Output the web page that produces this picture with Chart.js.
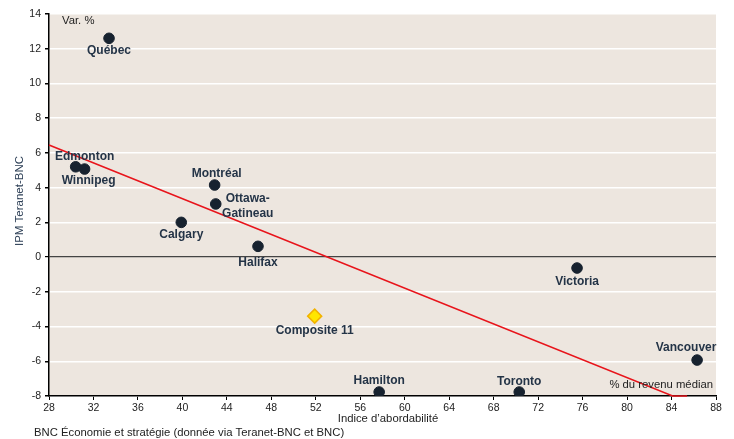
<!DOCTYPE html>
<html>
<head>
<meta charset="utf-8">
<script src="https://cdn.jsdelivr.net/npm/chart.js@4"></script>
<style>
  body { margin: 0; background: #fff; }
  #wrap { width: 734px; height: 439px; }
</style>
</head>
<body>
<div id="wrap"><canvas id="chart"></canvas></div>
<script>
// values
const cities = ['Québec', 'Edmonton', 'Winnipeg', 'Montréal', 'Ottawa-\nGatineau', 'Calgary', 'Halifax', 'Hamilton', 'Toronto', 'Victoria', 'Vancouver'];
const affordability = [33.4, 30.4, 31.2, 42.9, 43.0, 39.9, 46.8, 57.7, 70.3, 75.5, 86.3];
const ipmChange = [12.6, 5.2, 5.07, 4.15, 3.06, 2.0, 0.62, -7.77, -7.77, -0.63, -5.93];

const compositeLabel = ['Composite 11'];
const compositeX = [51.9];
const compositeY = [-3.4];

const trendX = [28, 84.1, 85.4];
const trendY = [6.45, -8, -8];

// where each label sits relative to its dot [dx, dy]
const labelOffsets = [[0, 12], [9, -10], [4, 12], [2, -11], [32, 2], [0, 12], [0, 16], [0, -11], [0, -10], [0, 14], [-11, -12]];
const compositeOffset = [0, 15];

const font = '"Liberation Sans", Arial, sans-serif';

const bgPlugin = {
  id: 'bg',
  beforeDraw(chart) {
    const { ctx, chartArea: a } = chart;
    ctx.save();
    ctx.fillStyle = '#EDE6DF';
    ctx.fillRect(a.left, a.top, a.right - a.left, a.bottom - a.top);
    ctx.restore();
  }
};

const textPlugin = {
  id: 'texts',
  afterDatasetsDraw(chart) {
    const { ctx } = chart;
    const xs = chart.scales.x, ys = chart.scales.y;
    ctx.save();
    ctx.fillStyle = '#243447';
    ctx.font = 'bold 12px ' + font;
    ctx.textAlign = 'center';
    ctx.textBaseline = 'middle';
    const put = (text, x, y, off) => {
      const px = xs.getPixelForValue(x) + off[0];
      const py = ys.getPixelForValue(y) + off[1];
      const lines = text.split('\n');
      const lh = 15;
      lines.forEach((l, i) => {
        ctx.fillText(l, px, py + (i - (lines.length - 1) / 2) * lh);
      });
    };
    cities.forEach((c, i) => put(c, affordability[i], ipmChange[i], labelOffsets[i]));
    put(compositeLabel[0], compositeX[0], compositeY[0], compositeOffset);

    ctx.fillStyle = '#222';
    ctx.font = '11.3px ' + font;
    ctx.textAlign = 'left';
    ctx.fillText('Var. %', 62, 21);
    ctx.textAlign = 'right';
    ctx.fillText('% du revenu médian', 713, 385);
    ctx.textAlign = 'center';
    ctx.fillText('Indice d’abordabilité', 388, 419);
    ctx.textAlign = 'left';
    ctx.fillText('BNC Économie et stratégie (donnée via Teranet-BNC et BNC)', 34, 433);
    ctx.translate(20, 201);
    ctx.rotate(-Math.PI / 2);
    ctx.textAlign = 'center';
    ctx.fillStyle = '#2E4057';
    ctx.font = '11.5px ' + font;
    ctx.fillText('IPM Teranet-BNC', 0, 0);
    ctx.restore();
  }
};

new Chart(document.getElementById('chart'), {
  type: 'scatter',
  data: {
    datasets: [
      {
        label: 'Villes',
        data: affordability.map((x, i) => ({ x: x, y: ipmChange[i] })),
        backgroundColor: '#17222F',
        borderColor: '#17222F',
        pointRadius: 5.3,
        order: 1
      },
      {
        label: 'Composite 11',
        data: compositeX.map((x, i) => ({ x: x, y: compositeY[i] })),
        pointStyle: 'rectRot',
        backgroundColor: '#FFE600',
        borderColor: '#F2B200',
        borderWidth: 1.5,
        pointRadius: 7,
        order: 0
      },
      {
        label: 'Tendance',
        type: 'line',
        data: trendX.map((x, i) => ({ x: x, y: trendY[i] })),
        borderColor: '#E8141B',
        borderWidth: 1.6,
        pointRadius: 0,
        fill: false,
        clip: false,
        order: 2
      }
    ]
  },
  options: {
    responsive: true,
    maintainAspectRatio: false,
    animation: false,
    layout: { padding: { top: 14, right: 18, left: 0, bottom: 0 } },
    plugins: {
      legend: { display: false },
      tooltip: { enabled: false }
    },
    scales: {
      x: {
        type: 'linear',
        min: 28,
        max: 88,
        afterFit: function (s) { s.height = 43; },
        ticks: { stepSize: 4, color: '#222', font: { size: 10.5, family: font }, padding: 2 },
        grid: { drawOnChartArea: false, tickLength: 4, tickColor: '#000' },
        border: { color: '#000', width: 1.5 }
      },
      y: {
        min: -8,
        max: 14,
        afterFit: function (s) { s.width = 49; },
        ticks: { stepSize: 2, color: '#222', font: { size: 10.5, family: font }, padding: 4 },
        grid: {
          color: c => c.tick.value === 0 ? '#444' : '#fff',
          lineWidth: c => c.tick.value === 0 ? 1.2 : 1.5,
          tickLength: 4,
          tickColor: '#000'
        },
        border: { color: '#000', width: 1.5 }
      }
    }
  },
  plugins: [bgPlugin, textPlugin]
});
</script>
</body>
</html>
